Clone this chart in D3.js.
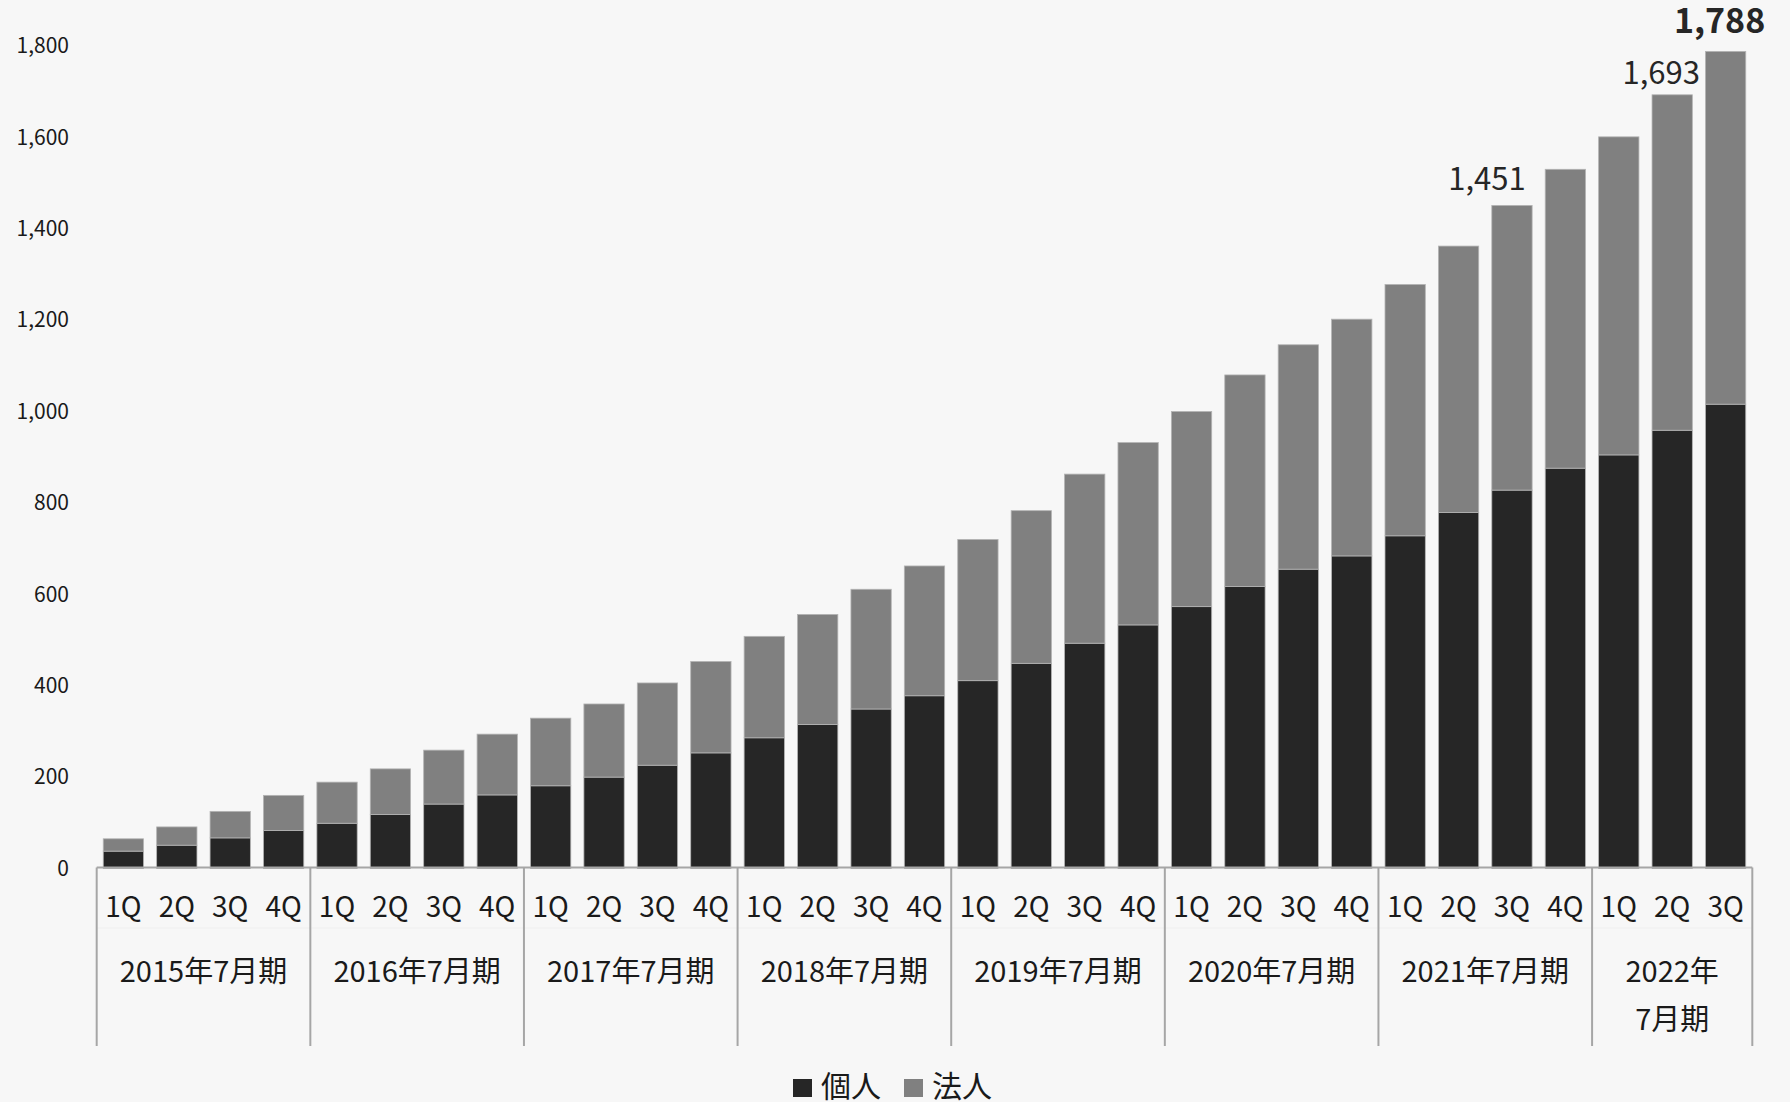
<!DOCTYPE html>
<html lang="ja">
<head>
<meta charset="utf-8">
<script src="https://cdn.jsdelivr.net/npm/d3@7"></script>
<style>
  html, body { margin: 0; padding: 0; background: #f7f7f7; }
  svg { display: block; }
  text { font-family: "Noto Sans CJK JP", "Noto Sans", sans-serif; }
</style>
</head>
<body>
<svg id="chart" width="1790" height="1102"></svg>
<script>
// Fiscal years (July year-end) and the quarters reported in each
const fiscalYears = [
  ["2015年7月期"], ["2016年7月期"], ["2017年7月期"], ["2018年7月期"],
  ["2019年7月期"], ["2020年7月期"], ["2021年7月期"], ["2022年", "7月期"]
];
const quarterNames = ["1Q", "2Q", "3Q", "4Q"];
const quartersPerYear = [4, 4, 4, 4, 4, 4, 4, 3];

// Series: 個人 (individual) and 法人 (corporate), one value per quarter
const individual = [
  38, 51, 67, 83,
  99, 118, 141, 161,
  181, 200, 226, 253,
  286, 315, 349, 378,
  411, 449, 493, 533,
  573, 617, 655, 684,
  728, 779, 828, 876,
  905, 959, 1016
];
const corporate = [
  27, 40, 58, 77,
  90, 100, 118, 133,
  148, 160, 180, 200,
  222, 241, 262, 284,
  309, 334, 370, 399,
  427, 463, 491, 518,
  550, 583, 623, 654,
  696, 734, 772
];
const seriesNames = ["個人", "法人"];
const seriesColors = ["#262626", "#808080"];

// Y axis ticks
const yTicks = [0, 200, 400, 600, 800, 1000, 1200, 1400, 1600, 1800];

// Totals annotated above selected bars (index into the quarter list)
const annotated = [
  { index: 26, dx: -25, dy: -15, size: 31, weight: 400 },
  { index: 29, dx: -11, dy: -11, size: 31, weight: 400 },
  { index: 30, dx: -6,  dy: -18, size: 34, weight: 700 }
];

// ---- build rows ----
const rows = [];
fiscalYears.forEach((fy, yi) => {
  for (let q = 0; q < quartersPerYear[yi]; q++) {
    const i = rows.length;
    rows.push({
      key: `${yi}-${q}`, year: yi, quarter: quarterNames[q],
      "個人": individual[i], "法人": corporate[i]
    });
  }
});
rows.forEach(r => r.total = r["個人"] + r["法人"]);

const svg = d3.select("#chart");
const axisGray = "#a6a6a6";

const x = d3.scaleBand()
  .domain(rows.map(r => r.key))
  .range([96.7, 1752.3])
  .paddingInner(0.245)
  .paddingOuter(0.1225);
const step = x.step();
const slotLeft = key => x(key) - step * x.paddingOuter();

const y = d3.scaleLinear().domain([0, 1800]).range([868.5, 45.9]);

// ---- y axis (labels only) ----
const yAxis = d3.axisLeft(y)
  .tickValues(yTicks)
  .tickFormat(d3.format(","))
  .tickSize(0)
  .tickPadding(9);
const yg = svg.append("g").attr("transform", "translate(78,0)").call(yAxis);
yg.select(".domain").remove();
yg.selectAll("text")
  .attr("fill", "#1a1a1a")
  .style("font-size", "21px")
  .style("font-family", "'Noto Sans CJK JP', sans-serif");

// ---- stacked bars ----
const stacked = d3.stack().keys(seriesNames)(rows);
svg.append("g").selectAll("g")
  .data(stacked)
  .join("g")
  .attr("fill", (d, i) => seriesColors[i])
  .selectAll("rect")
  .data(d => d)
  .join("rect")
  .attr("x", d => x(d.data.key))
  .attr("width", x.bandwidth())
  .attr("y", d => y(d[1]))
  .attr("height", d => y(d[0]) - y(d[1]))
  .attr("stroke", "#b4b4b4")
  .attr("stroke-width", 0.8);

// ---- category axis ----
const axisY = y(0) - 1;
const axisBottom = 1046;
const axisG = svg.append("g");

axisG.append("line")
  .attr("x1", x.range()[0]).attr("x2", x.range()[1])
  .attr("y1", axisY).attr("y2", axisY)
  .attr("stroke", axisGray).attr("stroke-width", 2);

// faint divider between the quarter row and the year row
axisG.append("line")
  .attr("x1", x.range()[0]).attr("x2", x.range()[1])
  .attr("y1", 928).attr("y2", 928)
  .attr("stroke", "#efefef").attr("stroke-width", 1);

// group separators
const groupStarts = [];
let idx = 0;
quartersPerYear.forEach(n => { groupStarts.push(idx); idx += n; });
const boundaries = groupStarts.map(i => slotLeft(rows[i].key)).concat([x.range()[1]]);
axisG.selectAll("line.sep")
  .data(boundaries)
  .join("line")
  .attr("class", "sep")
  .attr("x1", d => d).attr("x2", d => d)
  .attr("y1", axisY).attr("y2", axisBottom)
  .attr("stroke", axisGray).attr("stroke-width", 2);

// quarter labels
axisG.selectAll("text.q")
  .data(rows)
  .join("text")
  .attr("class", "q")
  .attr("x", d => x(d.key) + x.bandwidth() / 2)
  .attr("y", 917)
  .attr("text-anchor", "middle")
  .attr("fill", "#1a1a1a")
  .style("font-size", "28px")
  .text(d => d.quarter);

// fiscal-year labels
fiscalYears.forEach((lines, yi) => {
  const cx = (boundaries[yi] + boundaries[yi + 1]) / 2;
  const t = axisG.append("text")
    .attr("x", cx)
    .attr("y", 982)
    .attr("text-anchor", "middle")
    .attr("fill", "#1a1a1a")
    .style("font-size", "29px");
  lines.forEach((ln, li) => {
    t.append("tspan")
      .attr("x", cx)
      .attr("dy", li === 0 ? 0 : 48)
      .text(ln);
  });
});

// ---- total annotations ----
const fmt = d3.format(",");
svg.append("g").selectAll("text")
  .data(annotated)
  .join("text")
  .attr("x", d => x(rows[d.index].key) + x.bandwidth() / 2 + d.dx)
  .attr("y", d => y(rows[d.index].total) + d.dy)
  .attr("text-anchor", "middle")
  .attr("fill", "#262626")
  .style("font-size", d => d.size + "px")
  .style("font-weight", d => d.weight)
  .text(d => fmt(rows[d.index].total));

// ---- legend ----
const legend = svg.append("g");
const legendItems = [
  { name: "個人", color: seriesColors[0], x: 793 },
  { name: "法人", color: seriesColors[1], x: 904 }
];
legendItems.forEach(it => {
  legend.append("rect")
    .attr("x", it.x).attr("y", 1079)
    .attr("width", 19).attr("height", 18)
    .attr("fill", it.color);
  legend.append("text")
    .attr("x", it.x + 28).attr("y", 1097)
    .attr("fill", "#1a1a1a")
    .style("font-size", "30px")
    .text(it.name);
});
</script>
</body>
</html>
